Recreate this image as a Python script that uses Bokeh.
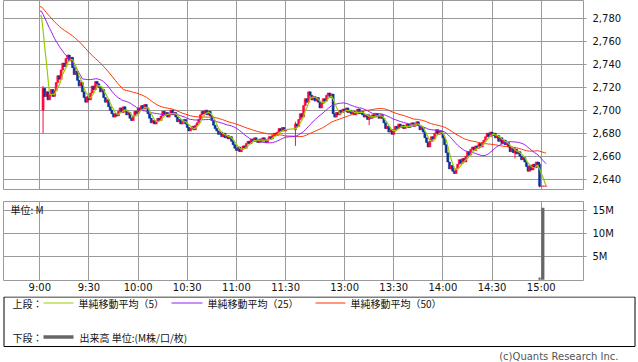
import numpy as np
from bokeh.plotting import figure
from bokeh.layouts import column
from bokeh.models import Range1d, FixedTicker, NumeralTickFormatter, ColumnDataSource, Grid
from bokeh.core.properties import value
from bokeh.embed import file_html
from bokeh.resources import INLINE

# ---------------- data ----------------
# x slot = minutes since 9:00 (morning); afternoon session 12:30 starts at slot 156
tick_pos = [0, 30, 60, 90, 120, 150, 186, 216, 246, 276, 306]
tick_labels = ["9:00", "9:30", "10:00", "10:30", "11:00", "11:30",
               "13:00", "13:30", "14:00", "14:30", "15:00"]
price_ticks = [2640, 2660, 2680, 2700, 2720, 2740, 2760, 2780]
vol_ticks = [5, 10, 15]

# previous day's last 50 one-minute closes (feed the moving averages)
prev_closes = [2799, 2797, 2798, 2796, 2795, 2797, 2794, 2796, 2793, 2795,
               2797, 2794, 2792, 2795, 2793, 2791, 2794, 2792, 2790, 2793,
               2791, 2789, 2792, 2790, 2791,
               2790, 2788, 2791, 2787, 2789, 2786, 2788, 2790, 2787, 2785,
               2788, 2786, 2789, 2787, 2784, 2786, 2788, 2785, 2783, 2786,
               2782, 2784, 2781, 2783, 2780]

AM_FIRST_SLOT = 2
am_open = 2700
am_closes = [2719, 2712, 2716, 2709, 2714, 2718, 2712, 2717, 2724, 2730,
             2727, 2735, 2741, 2738, 2745, 2748, 2743, 2746, 2737, 2731,
             2734, 2726, 2721, 2724, 2716, 2711, 2707, 2712, 2709, 2715,
             2721, 2718, 2725, 2723, 2720, 2716, 2718, 2711, 2707, 2709,
             2703, 2700, 2697, 2694, 2697, 2695, 2699, 2702, 2698, 2703,
             2700, 2696, 2698, 2693, 2691, 2695, 2699, 2697, 2702, 2700,
             2704, 2701, 2705, 2702, 2697, 2693, 2689, 2691, 2688, 2690,
             2693, 2691, 2695, 2699, 2696, 2698, 2694, 2697, 2700, 2696,
             2698, 2694, 2690, 2692, 2688, 2690, 2692, 2688, 2685, 2682,
             2684, 2686, 2683, 2687, 2689, 2692, 2696, 2699, 2697, 2700,
             2696, 2699, 2695, 2691, 2687, 2684, 2682, 2679, 2681, 2677,
             2680, 2676, 2678, 2675, 2677, 2673, 2670, 2667, 2665, 2668,
             2664, 2666, 2669, 2667, 2671, 2673, 2671, 2675, 2673, 2676,
             2674, 2672, 2675, 2673, 2676, 2674, 2672, 2675, 2677, 2675,
             2678, 2680, 2678, 2681, 2684, 2682, 2685, 2682, 2683]

PM_FIRST_SLOT = 156
pm_open = 2683
pm_closes = [2688, 2686, 2692, 2697, 2694, 2704, 2710, 2707, 2716, 2713,
             2709, 2712, 2708, 2711, 2707, 2702, 2706, 2710, 2708, 2713,
             2715, 2711, 2714, 2697, 2694, 2698, 2696, 2700, 2698, 2701,
             2699, 2702, 2698, 2700, 2697, 2699, 2696, 2698, 2701, 2697,
             2699, 2696, 2694, 2696, 2692, 2695, 2693, 2696, 2694, 2697,
             2695, 2693, 2696, 2693, 2689, 2684, 2686, 2681, 2683, 2679,
             2682, 2686, 2684, 2688, 2685, 2687, 2684, 2686, 2688, 2685,
             2687, 2689, 2686, 2688, 2690, 2687, 2683, 2685, 2681, 2676,
             2672, 2668, 2673, 2677, 2675, 2680, 2683, 2679, 2682, 2680,
             2676, 2670, 2663, 2655, 2649, 2652, 2647, 2645, 2649, 2653,
             2657, 2654, 2658, 2655, 2660, 2664, 2661, 2666, 2668, 2665,
             2669, 2667, 2671, 2668, 2672, 2674, 2677, 2680, 2677, 2681,
             2678, 2680, 2676, 2678, 2673, 2676, 2671, 2674, 2670, 2672,
             2668, 2664, 2667, 2663, 2666, 2662, 2664, 2660, 2657, 2659,
             2655, 2651, 2647, 2652, 2648, 2653, 2650, 2655, 2653, 2634,
             2634, 2634, 2634, 2634]

# bars with visible shadows beyond the body: slot -> (high, low)
extra_wicks = {2: (2721, 2680), 156: (2690, 2669), 201: (2697, 2687),
               290: (2667, 2658), 305: (2655, 2633)}

# volume (millions) - only bars visible at this scale
vol_slots = [305, 307]
vol_millions = [0.5, 15.6]
vol_widths = [1.3, 1.9]

# ---------------- derived ----------------
slots = list(range(AM_FIRST_SLOT, AM_FIRST_SLOT + len(am_closes))) + \
        list(range(PM_FIRST_SLOT, PM_FIRST_SLOT + len(pm_closes)))
closes = am_closes + pm_closes
opens = [am_open] + am_closes[:-1] + [pm_open] + pm_closes[:-1]
highs = [max(o, c) for o, c in zip(opens, closes)]
lows = [min(o, c) for o, c in zip(opens, closes)]
for i, s in enumerate(slots):
    if s in extra_wicks:
        h, l = extra_wicks[s]
        highs[i] = max(highs[i], h)
        lows[i] = min(lows[i], l)

UP = "#ff0a3c"
DOWN = "#0a3494"
colors = [UP if c >= o else DOWN for o, c in zip(opens, closes)]
src = ColumnDataSource(dict(x=slots, top=[max(o, c) for o, c in zip(opens, closes)],
                            bottom=[min(o, c) for o, c in zip(opens, closes)],
                            high=highs, low=lows, color=colors))

allc = np.array(prev_closes + closes, dtype=float)
npv = len(prev_closes)


def sma(n):
    vals = [allc[k - n + 1:k + 1].mean() for k in range(npv - 1, len(allc))]
    return [vals[0]] + vals


ma_x = [0, 1] + slots
ma5, ma25, ma50 = sma(5), sma(25), sma(50)

GRID = "#9a9a9a"
W = 638
xr = Range1d(-22.15, 331.8)


def style_right_axis(ax):
    ax.axis_line_color = None
    ax.major_tick_out = 3
    ax.major_tick_in = 0
    ax.major_tick_line_color = GRID
    ax.minor_tick_line_color = None
    ax.major_label_text_font = "DejaVu Sans"
    ax.major_label_text_font_size = "10px"
    ax.major_label_text_color = "#111111"
    ax.major_label_standoff = 6


# ---------------- price panel ----------------
p1 = figure(width=W, height=190, x_range=xr, y_range=Range1d(2630.2, 2795.4),
            x_axis_location=None, y_axis_location="right", output_backend="svg",
            toolbar_location=None, min_border_left=3, min_border_right=55,
            min_border_top=0, min_border_bottom=0)
p1.grid.visible = False
p1.add_layout(Grid(dimension=0, ticker=FixedTicker(ticks=tick_pos), grid_line_color=GRID))
p1.add_layout(Grid(dimension=1, ticker=FixedTicker(ticks=price_ticks), grid_line_color=GRID))
p1.yaxis.ticker = FixedTicker(ticks=price_ticks)
p1.yaxis.formatter = NumeralTickFormatter(format="0,0")
style_right_axis(p1.yaxis[0])
p1.outline_line_color = GRID

p1.segment(x0="x", y0="low", x1="x", y1="high", line_color="color", line_width=1, source=src)
p1.vbar(x="x", top="top", bottom="bottom", width=1.3, fill_color="color", line_color="color",
        line_width=0.5, source=src)
p1.line(ma_x, ma50, line_color="#ff3300", line_width=1)
p1.line(ma_x, ma25, line_color="#9a1cf5", line_width=1)
p1.line(ma_x, ma5, line_color="#99cc00", line_width=1.2)

# ---------------- volume panel ----------------
p2 = figure(width=W, height=106, x_range=xr, y_range=Range1d(-0.17, 16.98),
            y_axis_location="right", output_backend="svg", toolbar_location=None,
            min_border_left=3, min_border_right=55, min_border_top=11, min_border_bottom=16)
p2.grid.visible = False
p2.add_layout(Grid(dimension=0, ticker=FixedTicker(ticks=tick_pos), grid_line_color=GRID))
p2.add_layout(Grid(dimension=1, ticker=FixedTicker(ticks=vol_ticks), grid_line_color=GRID))
p2.yaxis.ticker = FixedTicker(ticks=vol_ticks)
p2.yaxis.major_label_overrides = {v: f"{v}M" for v in vol_ticks}
style_right_axis(p2.yaxis[0])
xa = p2.xaxis[0]
xa.ticker = FixedTicker(ticks=tick_pos)
xa.major_label_overrides = {t: l for t, l in zip(tick_pos, tick_labels)}
xa.axis_line_color = None
xa.major_tick_line_color = None
xa.minor_tick_line_color = None
xa.major_tick_out = 0
xa.major_tick_in = 0
xa.major_label_standoff = 1
xa.major_label_text_font = "DejaVu Sans"
xa.major_label_text_font_size = "10px"
xa.major_label_text_color = "#111111"
p2.outline_line_color = GRID

p2.vbar(x=vol_slots, top=vol_millions, bottom=0, width=vol_widths,
        fill_color="#666666", line_color=None)
p2.text(x=[-17.9], y=[15.25], text=["単位: M"], text_baseline="middle", text_align="left",
        text_font=value("Noto Sans CJK JP"), text_font_size=value("10px"), text_color="#111111")

# ---------------- legend panel (separate root, so no frame alignment) ----------------
H3 = 66
p3 = figure(width=W, height=H3, x_range=Range1d(0, W), y_range=Range1d(H3, 0),
            x_axis_location=None, y_axis_location=None, output_backend="svg",
            toolbar_location=None, min_border=0, min_border_left=0, min_border_right=0,
            min_border_top=0, min_border_bottom=0)
p3.grid.visible = False
p3.outline_line_color = None
p3.quad(left=[3.5], right=[634.5], top=[0.5], bottom=[50], fill_color=None,
        line_color="#000000", line_width=1)

legend_labels = ["単純移動平均（5）", "単純移動平均（25）", "単純移動平均（50）"]
legend_colors = ["#99cc00", "#9a1cf5", "#ff3300"]
seg_x0 = [43, 171, 315, 43]
seg_x1 = [73, 202, 345, 73]
seg_y = [6.5, 6.5, 6.5, 40.5]
p3.segment(x0=seg_x0, y0=seg_y, x1=seg_x1, y1=seg_y,
           line_color=legend_colors + ["#666666"], line_width=[1, 1, 1, 3.5])
p3.text(x=[12, 78, 207, 350, 12, 79], y=[7, 7, 7, 7, 41, 41],
        text=["上段："] + legend_labels + ["下段：", "出来高 単位:(M株/口/枚)"],
        text_baseline="middle", text_align="left", text_font=value("Noto Sans CJK JP"),
        text_font_size=value("10px"), text_color="#111111")
p3.text(x=[618], y=[60], text=["(c)Quants Research Inc."], text_baseline="middle",
        text_align="right", text_font=value("DejaVu Sans"), text_font_size=value("10px"),
        text_color="#555555")

charts = column(p1, p2, spacing=0)
open("out.html", "w").write(file_html([charts, p3], INLINE))
